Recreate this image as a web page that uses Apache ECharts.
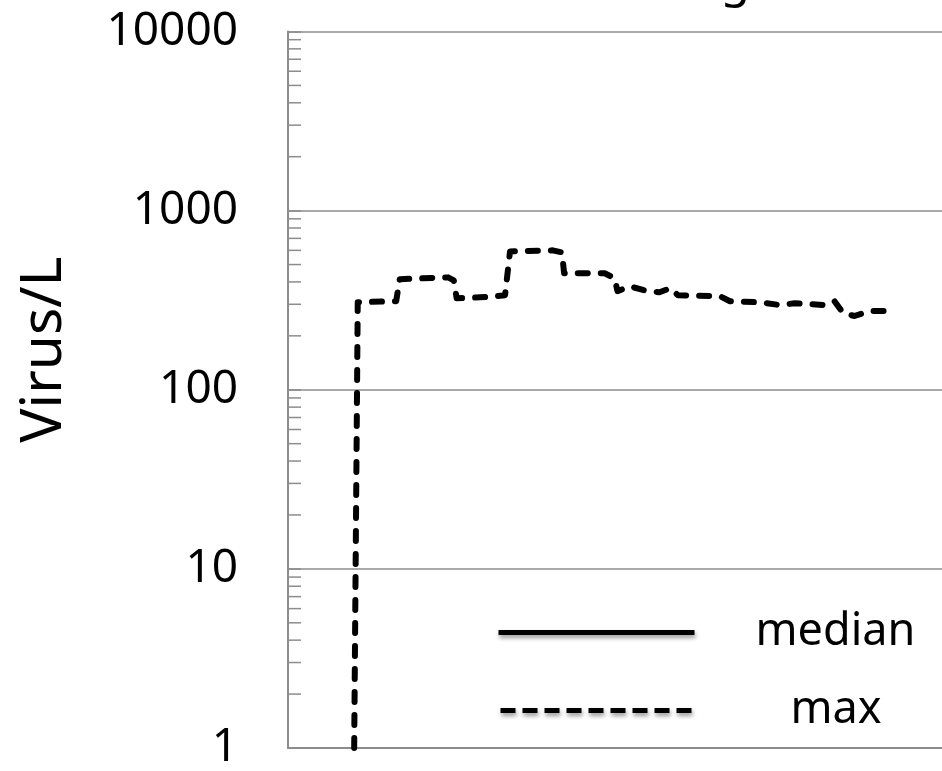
<!DOCTYPE html>
<html><head><meta charset="utf-8">
<script src="https://cdn.jsdelivr.net/npm/echarts@6/dist/echarts.min.js"></script>
<style>html,body{margin:0;padding:0;background:#fff}#c{width:942px;height:771px}</style>
</head><body><div id="c"></div>
<script>
// x positions (time units) of the sampled points
const days = [9.3, 9.8, 15.2, 15.7, 22.5, 23.3, 23.7, 27.7, 30.5, 31.2, 37.2, 38.5, 38.8, 44.5, 45.9, 46.3, 48.0, 50.1, 52.2, 53.7, 54.8, 60.7, 62.1, 66.3, 69.1, 71.2, 75.4, 76.8, 78.0, 79.6, 81.7, 85.3];
// max virus concentration (Virus/L)
const maxVirus = [1, 308, 312, 414, 424, 408, 324, 329, 337, 592, 600, 585, 447, 447, 419, 355, 378, 359, 350, 369, 337, 333, 312, 308, 297, 304, 297, 312, 268, 258, 275, 275];
// median virus concentration (below the axis range, not visible)
const medianVirus = [0, 0, 0, 0, 0, 0, 0, 0, 0, 0, 0, 0, 0, 0, 0, 0, 0, 0, 0, 0, 0, 0, 0, 0, 0, 0, 0, 0, 0, 0, 0, 0];
// y-axis decade labels and minor tick values
const yTickLabels = ['1', '10', '100', '1000', '10000'];
const minorTickValues = [2, 3, 4, 5, 6, 7, 8, 9, 20, 30, 40, 50, 60, 70, 80, 90, 200, 300, 400, 500, 600, 700, 800, 900, 2000, 3000, 4000, 5000, 6000, 7000, 8000, 9000];
const seriesNames = ['median', 'max'];
const titleText = 'Virus Loading';
const yName = 'Virus/L';

const FONT = 'Noto Sans';
const GRAY = '#8c8c8c';
const chart = echarts.init(document.getElementById('c'), null, {renderer: 'canvas'});

const legendCommon = {
  orient: 'horizontal', padding: 0, itemWidth: 196, itemHeight: 50,
  selectedMode: false,
  itemStyle: {color: 'rgba(0,0,0,0)', opacity: 0, borderWidth: 0},
  textStyle: {fontSize: 45, fontFamily: FONT, color: '#000'}
};
const legendShadow = {shadowColor: 'rgba(0,0,0,0.4)', shadowBlur: 4, shadowOffsetY: 3, shadowOffsetX: 1};

chart.setOption({
  animation: false,
  backgroundColor: '#fff',
  title: {
    text: titleText, right: 192, top: -41, padding: 0,
    textStyle: {fontSize: 48, fontWeight: 'normal', fontFamily: FONT, color: '#000'}
  },
  legend: [
    Object.assign({}, legendCommon, {data: [seriesNames[0]], left: 496, top: 610,
      lineStyle: Object.assign({width: 5, type: 'solid', cap: 'butt'}, legendShadow),
      textStyle: Object.assign({}, legendCommon.textStyle, {padding: [0, 0, 0, 56]})}),
    Object.assign({}, legendCommon, {data: [seriesNames[1]], left: 498, top: 688,
      lineStyle: Object.assign({width: 5, type: [15, 7], cap: 'butt'}, legendShadow),
      textStyle: Object.assign({}, legendCommon.textStyle, {padding: [0, 0, 0, 89]})})
  ],
  grid: {left: 288, top: 31.5, bottom: 18.7, right: 0, containLabel: false},
  xAxis: {
    type: 'value', min: 0, max: 91.9,
    axisLine: {show: true, onZero: false, lineStyle: {color: GRAY, width: 2}},
    axisTick: {show: false}, axisLabel: {show: false}, splitLine: {show: false}
  },
  yAxis: {
    type: 'log', logBase: 10, min: 1, max: 10000,
    name: yName, nameLocation: 'middle', nameGap: 215,
    nameTextStyle: {fontSize: 57, fontFamily: FONT, color: '#000', padding: [0, 0, 0, 80]},
    axisLine: {show: true, lineStyle: {color: GRAY, width: 2}},
    axisTick: {show: true, inside: true, length: 13, lineStyle: {color: GRAY, width: 1.5}},
    axisLabel: {
      fontSize: 46, fontFamily: FONT, color: '#000', margin: 50,
      formatter: function (v) {
        const e = Math.round(Math.log10(v));
        return yTickLabels[e] !== undefined ? yTickLabels[e] : String(v);
      }
    },
    splitLine: {show: true, lineStyle: {color: GRAY, width: 1.5}}
  },
  series: [
    {
      name: seriesNames[0], type: 'line', symbol: 'none', clip: true,
      data: days.map((d, i) => [d, medianVirus[i]]),
      lineStyle: {color: '#000', width: 5, type: 'solid'}, itemStyle: {color: '#000'}
    },
    {
      name: seriesNames[1], type: 'line', symbol: 'none', clip: true,
      data: days.map((d, i) => [d, maxVirus[i]]),
      lineStyle: {color: '#000', width: 6, type: [10, 13], cap: 'round', join: 'round'},
      itemStyle: {color: '#000'}
    },
    {
      name: 'minorTicks', type: 'custom', silent: true, clip: false, z: 3,
      data: minorTickValues.map(v => [0, v]),
      renderItem: function (params, api) {
        const p = api.coord([0, api.value(1)]);
        return {type: 'line', shape: {x1: p[0], y1: p[1], x2: p[0] + 13, y2: p[1]},
          style: {stroke: GRAY, lineWidth: 1.5}};
      }
    }
  ]
});
</script>
</body></html>
